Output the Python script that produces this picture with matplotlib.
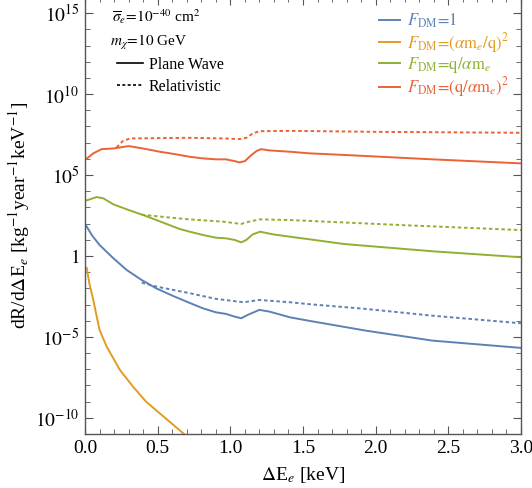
import matplotlib
matplotlib.use("Agg")
import matplotlib.pyplot as plt
import numpy as np
from matplotlib.lines import Line2D
from matplotlib.ticker import FixedLocator, FixedFormatter, MultipleLocator

plt.rcParams['font.family'] = ['Liberation Serif', 'DejaVu Serif']
plt.rcParams['mathtext.fontset'] = 'stix'

# ---- data (log10 of rate vs energy in keV) ----
blue_pw_E = [0.0, 0.05, 0.10, 0.195, 0.286, 0.389, 0.49, 0.606, 0.72, 0.81, 0.90, 0.97,
             1.03, 1.075, 1.12, 1.2, 1.27, 1.41, 1.544, 1.93, 2.39, 3.0]
blue_pw_L = [1.98, 1.25, 0.68, -0.14, -0.86, -1.48, -2.0, -2.47, -2.9, -3.23, -3.48, -3.58,
             -3.75, -3.85, -3.64, -3.33, -3.44, -3.79, -4.01, -4.61, -5.23, -5.68]
blue_rel_E = [0.39, 0.49, 0.72, 0.90, 1.09, 1.2, 1.41, 1.544, 1.93, 2.39, 3.0]
blue_rel_L = [-1.65, -1.89, -2.3, -2.65, -2.86, -2.72, -2.86, -2.98, -3.27, -3.69, -4.16]

orange_pw_E = [0.012, 0.03, 0.057, 0.10, 0.149, 0.24, 0.33, 0.42, 0.54, 0.675, 0.70]
orange_pw_L = [-0.74, -1.7, -2.72, -4.57, -5.6, -7.04, -8.07, -9.0, -9.92, -10.95, -11.15]

green_pw_E = [0.0, 0.08, 0.126, 0.195, 0.30, 0.40, 0.52, 0.65, 0.72, 0.81, 0.90, 0.97, 1.03,
              1.075, 1.11, 1.155, 1.205, 1.29, 1.41, 1.544, 1.78, 2.39, 3.0]
green_pw_L = [3.4, 3.64, 3.56, 3.19, 2.84, 2.53, 2.12, 1.67, 1.5, 1.3, 1.13, 1.09, 0.99,
              0.84, 0.99, 1.34, 1.5, 1.34, 1.19, 1.03, 0.74, 0.29, -0.08]
green_rel_E = [0.39, 0.6, 0.72, 0.95, 1.075, 1.13, 1.2, 1.41, 2.2, 3.0]
green_rel_L = [2.55, 2.36, 2.26, 2.12, 1.98, 2.12, 2.26, 2.22, 1.9, 1.6]

red_pw_E = [0.0, 0.057, 0.114, 0.195, 0.30, 0.40, 0.515, 0.6, 0.72, 0.81, 0.90, 0.97, 1.03,
            1.064, 1.10, 1.144, 1.18, 1.21, 1.27, 1.41, 1.544, 1.81, 2.39, 3.0]
red_pw_L = [5.93, 6.34, 6.6, 6.64, 6.79, 6.64, 6.44, 6.32, 6.13, 6.03, 5.97, 5.97, 5.86,
            5.78, 5.86, 6.23, 6.48, 6.6, 6.52, 6.44, 6.34, 6.23, 5.97, 5.72]
red_rel_E = [0.217, 0.26, 0.31, 0.72, 0.95, 1.064, 1.11, 1.155, 1.2, 1.41, 2.0, 3.0]
red_rel_L = [6.7, 7.1, 7.26, 7.3, 7.26, 7.22, 7.3, 7.57, 7.71, 7.73, 7.67, 7.61]

labels = [r'$F_{\mathrm{DM}}\!=\!1$',
          r'$F_{\mathrm{DM}}\!=\!(\alpha\mathrm{m}_e/\mathrm{q})^2$',
          r'$F_{\mathrm{DM}}\!=\!\mathrm{q}/\alpha\mathrm{m}_e$',
          r'$F_{\mathrm{DM}}\!=\!(\mathrm{q}/\alpha\mathrm{m}_e)^2$']
colors = ['#5E81B5', '#E19C24', '#8FB032', '#EB6235']

ytick_vals = [1e-10, 1e-5, 1, 1e5, 1e10, 1e15]
ytick_labels = [r'$10^{-10}$', r'$10^{-5}$', r'$1$', r'$10^{5}$', r'$10^{10}$', r'$10^{15}$']

fig = plt.figure(figsize=(5.32, 4.88), dpi=100)
ax = fig.add_axes([85/532, 54/488, 436/532, 437/488])

lw = 1.4
dots = (0, (1.8, 1.4))
series = [(blue_pw_E, blue_pw_L, blue_rel_E, blue_rel_L),
          (orange_pw_E, orange_pw_L, None, None),
          (green_pw_E, green_pw_L, green_rel_E, green_rel_L),
          (red_pw_E, red_pw_L, red_rel_E, red_rel_L)]
handles = []
for (pe, pl, re_, rl), c, lab in zip(series, colors, labels):
    h, = ax.plot(pe, 10**np.array(pl), color=c, lw=lw, label=lab,
                 solid_joinstyle='round')
    handles.append(h)
    if re_ is not None:
        ax.plot(re_, 10**np.array(rl), color=c, lw=lw, ls=dots)

ax.set_yscale('log')
ax.set_xlim(0, 3.0)
ax.set_ylim(1e-11, 1e16)
ax.yaxis.set_major_locator(FixedLocator(ytick_vals))
ax.yaxis.set_major_formatter(FixedFormatter(ytick_labels))
ax.yaxis.set_minor_locator(FixedLocator([10.0**k for k in range(-11, 17)]))
ax.yaxis.set_minor_formatter(FixedFormatter([]))
ax.xaxis.set_major_locator(MultipleLocator(0.5))
ax.xaxis.set_minor_locator(MultipleLocator(0.1))
ax.xaxis.set_major_formatter(matplotlib.ticker.FormatStrFormatter('%.1f'))

framec = '#555555'
for s in ax.spines.values():
    s.set_color(framec)
    s.set_linewidth(1.0)
ax.tick_params(which='both', direction='in', top=True, right=True, color=framec,
               labelsize=14, pad=4)
ax.tick_params(which='major', length=6)
ax.tick_params(which='minor', length=3.5)

ax.set_xlabel(r'$\Delta$E$_e$ [keV]', fontsize=14, labelpad=6)
ax.set_ylabel(r'dR/d$\Delta$E$_e$ [kg$^{-1}$year$^{-1}$keV$^{-1}$]', fontsize=14, labelpad=2)

leg1 = ax.legend(handles=handles, loc='upper left', bbox_to_anchor=(0.655, 0.985),
                 frameon=False, fontsize=12, handlelength=1.25, handletextpad=0.45,
                 labelspacing=0.02, borderpad=0, labelcolor='linecolor')
ax.add_artist(leg1)

ax.text(0.062, 0.955, r'$\overline{\sigma}_e\!=\!10^{-40}$ cm$^2$', transform=ax.transAxes,
        fontsize=11, va='center', ha='left')
ax.text(0.058, 0.895, r'$m_\chi\!=\!10$ GeV', transform=ax.transAxes,
        fontsize=11, va='center', ha='left')
proxies = [Line2D([], [], color='black', lw=1.2),
           Line2D([], [], color='black', lw=1.2, ls=dots)]
ax.legend(proxies, ['Plane Wave', 'Relativistic'], loc='upper left',
          bbox_to_anchor=(0.055, 0.881), frameon=False, fontsize=11.5,
          handlelength=1.6, handletextpad=0.4, labelspacing=0.35, borderpad=0)

fig.savefig('out.png', dpi=100)
